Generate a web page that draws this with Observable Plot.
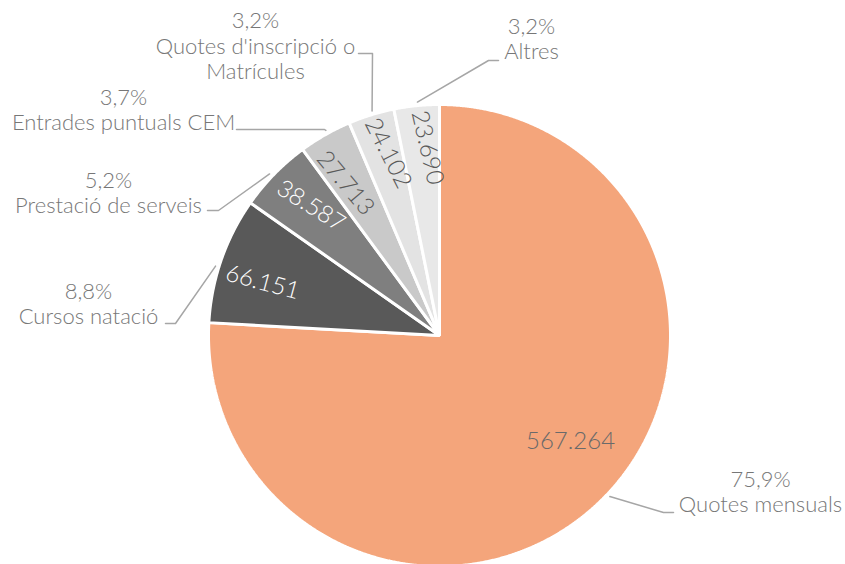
<!DOCTYPE html>
<html>
<head>
<meta charset="utf-8">
<script src="https://cdn.jsdelivr.net/npm/d3@7"></script>
<script src="https://cdn.jsdelivr.net/npm/@observablehq/plot@0.6"></script>
<style>
  html, body { margin: 0; padding: 0; background: #fff; }
  #chart svg { display: block; }
</style>
</head>
<body>
<div id="chart"></div>
<script>
// ---------- data ----------
const categories = ["Quotes mensuals", "Cursos natació", "Prestació de serveis", "Entrades puntuals CEM", "Quotes d'inscripció o\nMatrícules", "Altres"];
const values = [567264, 66151, 38587, 27713, 24102, 23690];
const valueLabels = ["567.264", "66.151", "38.587", "27.713", "24.102", "23.690"];
const percentLabels = ["75,9%", "8,8%", "5,2%", "3,7%", "3,2%", "3,2%"];
const sliceColors = ["#F4A57B", "#595959", "#7F7F7F", "#C9C9C9", "#E3E3E3", "#E8E8E8"];
const valueTextColors = ["#6a6a6a", "#ffffff", "#ffffff", "#595959", "#595959", "#595959"];

// ---------- layout (pixels) ----------
const W = 845, H = 564, CX = 439, CY = 335, R = 231;
// inside value labels: radius factor, angle offset (deg), text rotation (deg)
const innerRadius = [0.73, 0.80, 0.79, 0.775, 0.82, 0.815];
const innerAngleOffset = [-7.6, -2.4, 0.9, -2, 1.5, 2];
const innerRotate = [0, 15, 32, 50, 63, 77];
// outer labels: block centre, leader elbow and end (pixels), leader start angle offset
const outerText = [[760, 491], [88, 303], [108, 192], [123, 109], [255, 45], [531, 38]];
const leaderElbow = [[663, 512], [175, 323], [218, 210], [324, 129], [372, 53], [488, 60]];
const leaderEnd = [[673, 512], [165, 323], [207, 210], [236, 129], [358, 53], [498, 60]];
const leaderAngleOffset = [-3.2, -1.9, -0.8, 0.7, 0.5, 0.3];

// ---------- geometry ----------
const px2u = ([px, py]) => ({x: (px - CX) / R, y: (CY - py) / R});
const rows = categories.map((c, i) => ({i, category: c, value: values[i]}));
const arcs = d3.pie().sort(null).value(d => d.value)(rows);
const deg = Math.PI / 180;

const slicePoints = [];
arcs.forEach(a => {
  const i = a.data.i;
  slicePoints.push({key: i, x: 0, y: 0, color: sliceColors[i]});
  const n = Math.max(2, Math.ceil((a.endAngle - a.startAngle) / (0.25 * deg)));
  for (let k = 0; k <= n; k++) {
    const t = a.startAngle + (a.endAngle - a.startAngle) * k / n;
    slicePoints.push({key: i, x: Math.sin(t), y: Math.cos(t), color: sliceColors[i]});
  }
  slicePoints.push({key: i, x: 0, y: 0, color: sliceColors[i]});
});

const innerLabels = arcs.map(a => {
  const i = a.data.i;
  const mid = (a.startAngle + a.endAngle) / 2 + innerAngleOffset[i] * deg;
  return {x: innerRadius[i] * Math.sin(mid), y: innerRadius[i] * Math.cos(mid),
          text: valueLabels[i], rot: innerRotate[i], fill: valueTextColors[i]};
});

const outerLabels = arcs.map(a => {
  const i = a.data.i;
  const p = px2u(outerText[i]);
  return {x: p.x, y: p.y, text: percentLabels[i] + "\n" + categories[i]};
});

const leaderPoints = [];
arcs.forEach(a => {
  const i = a.data.i;
  const mid = (a.startAngle + a.endAngle) / 2 + leaderAngleOffset[i] * deg;
  leaderPoints.push({key: i, x: 1.015 * Math.sin(mid), y: 1.015 * Math.cos(mid)});
  leaderPoints.push({key: i, ...px2u(leaderElbow[i])});
  leaderPoints.push({key: i, ...px2u(leaderEnd[i])});
});

const font = "Lato, 'Open Sans', sans-serif";

const chart = Plot.plot({
  width: W,
  height: H,
  margin: 0,
  style: {background: "#fff", fontFamily: font},
  x: {domain: [-CX / R, (W - CX) / R], range: [0, W], axis: null},
  y: {domain: [(CY - H) / R, CY / R], range: [H, 0], axis: null},
  color: {type: "identity"},
  marks: [
    Plot.line(slicePoints, {x: "x", y: "y", z: "key", fill: "color", stroke: "#ffffff", strokeWidth: 3, strokeLinejoin: "miter", curve: "linear-closed"}),
    Plot.line(leaderPoints, {x: "x", y: "y", z: "key", stroke: "#a6a6a6", strokeWidth: 1.5}),
    Plot.text(innerLabels, {x: "x", y: "y", text: "text", rotate: "rot", fill: "fill", fontSize: 24, fontWeight: 300, fontFamily: font}),
    Plot.text(outerLabels, {x: "x", y: "y", text: "text", fill: "#777777", fontSize: 22, fontWeight: 300, lineHeight: 1.15, fontFamily: font})
  ]
});
document.getElementById("chart").appendChild(chart);
</script>
</body>
</html>
